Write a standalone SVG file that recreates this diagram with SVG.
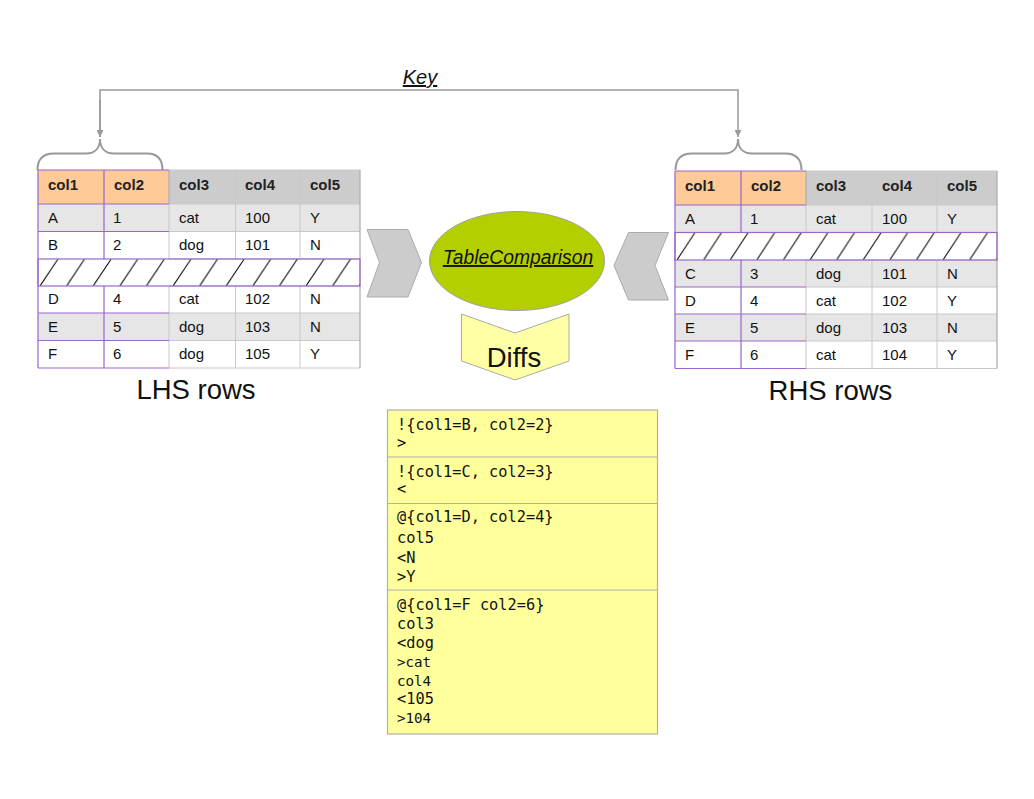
<svg xmlns="http://www.w3.org/2000/svg" width="1034" height="799" viewBox="0 0 1034 799">
<style>
.cell{font-family:"Liberation Sans",Arial,sans-serif;font-size:15px;fill:#111}
.hdr{font-family:"Liberation Sans",Arial,sans-serif;font-size:15px;font-weight:bold;fill:#222}
.grid{stroke:#c8c8c8;stroke-width:1;fill:none}
.key{stroke:#9966cc;stroke-width:1.2;fill:none}
.mono{font-family:"DejaVu Sans Mono","Liberation Mono",monospace;font-size:15.3px;fill:#111}
.mono.sm{font-size:14.2px}
.lbl{font-family:"Liberation Sans",Arial,sans-serif;font-size:27.5px;fill:#111}
.conn{stroke:#999;stroke-width:1.5;fill:none}
.brace{stroke:#999;stroke-width:2;fill:none}
</style>
<defs>
<marker id="ah" viewBox="0 0 10 10" refX="10" refY="5" markerWidth="7" markerHeight="7" markerUnits="userSpaceOnUse" orient="auto">
<path d="M0,0 L10,5 L0,10 z" fill="#999"/>
</marker>
<pattern id="hatchL" patternUnits="userSpaceOnUse" x="40" y="259" width="26.6" height="27">
<line x1="0" y1="27" x2="18" y2="0" stroke="#000" stroke-width="1"/>
</pattern>
<pattern id="hatchR" patternUnits="userSpaceOnUse" x="677" y="232.5" width="26.6" height="27.5">
<line x1="0" y1="27.5" x2="18" y2="0" stroke="#000" stroke-width="1"/>
</pattern>
</defs>

<g id="connectors">
<path class="conn" d="M100,137 L100,90 L738,90 L738,137" marker-end="url(#ah)"/>
<path class="conn" d="M100,100 L100,137" marker-end="url(#ah)"/>
<path class="brace" d="M37.5,170 C37.5,159 43,153.5 54,153.5 L86,153.5 C95,153.5 100,148 100,139 C100,148 105,153.5 114,153.5 L147,153.5 C158,153.5 162.5,159 162.5,170"/>
<path class="brace" d="M675.5,170 C675.5,159 681,153.5 692,153.5 L724,153.5 C733,153.5 738,148 738,139 C738,148 743,153.5 752,153.5 L785,153.5 C796,153.5 801.5,159 801.5,170"/>
<text x="420" y="84" text-anchor="middle" font-family="Liberation Sans, Arial, sans-serif" font-size="20" font-style="italic" text-decoration="underline" fill="#111">Key</text>
</g>

<g id="lhs-table">
<rect x="38" y="170" width="131" height="34" fill="#fdca98"/>
<rect x="169" y="170" width="191" height="34" fill="#cccccc"/>
<rect x="38" y="204" width="322" height="27.5" fill="#e6e6e6"/>
<rect x="38" y="231.5" width="322" height="27.5" fill="#ffffff"/>
<rect x="38" y="286" width="322" height="27" fill="#ffffff"/>
<rect x="38" y="313" width="322" height="27.5" fill="#e6e6e6"/>
<rect x="38" y="340.5" width="322" height="27.5" fill="#ffffff"/>
<path class="grid" d="M169,170 H360 M169,204 H360 M169,231.5 H360 M169,259 H360 M169,286 H360 M169,313 H360 M169,340.5 H360 M169,368 H360 M169,170 V259 M169,286 V368 M235.5,170 V259 M235.5,286 V368 M300,170 V259 M300,286 V368"/>
<path d="M360,170 V368" stroke="#aaa" stroke-width="1.2" fill="none"/>
<path d="M169,170 V204" stroke="#aaa" stroke-width="1" fill="none"/>
<path class="key" d="M38,170 H169 M38,204 H169 M38,231.5 H169 M38,313 H169 M38,340.5 H169 M38,368 H169 M38,170 V368 M104,170 V259 M104,286 V368"/>
<rect x="38" y="259" width="322" height="27" fill="url(#hatchL)" stroke="#9966cc" stroke-width="1.2"/>
<text class="hdr" x="48" y="190">col1</text>
<text class="hdr" x="114" y="190">col2</text>
<text class="hdr" x="179" y="190">col3</text>
<text class="hdr" x="245" y="190">col4</text>
<text class="hdr" x="310" y="190">col5</text>
<text class="cell" x="48" y="223">A</text><text class="cell" x="113" y="223">1</text><text class="cell" x="179" y="223">cat</text><text class="cell" x="245" y="223">100</text><text class="cell" x="310" y="223">Y</text>
<text class="cell" x="48" y="250">B</text><text class="cell" x="113" y="250">2</text><text class="cell" x="179" y="250">dog</text><text class="cell" x="245" y="250">101</text><text class="cell" x="310" y="250">N</text>
<text class="cell" x="48" y="304">D</text><text class="cell" x="113" y="304">4</text><text class="cell" x="179" y="304">cat</text><text class="cell" x="245" y="304">102</text><text class="cell" x="310" y="304">N</text>
<text class="cell" x="48" y="331.5">E</text><text class="cell" x="113" y="331.5">5</text><text class="cell" x="179" y="331.5">dog</text><text class="cell" x="245" y="331.5">103</text><text class="cell" x="310" y="331.5">N</text>
<text class="cell" x="48" y="358.5">F</text><text class="cell" x="113" y="358.5">6</text><text class="cell" x="179" y="358.5">dog</text><text class="cell" x="245" y="358.5">105</text><text class="cell" x="310" y="358.5">Y</text>
<text class="lbl" x="196" y="399" text-anchor="middle">LHS rows</text>
</g>

<g id="rhs-table">
<rect x="675" y="171" width="131" height="34" fill="#fdca98"/>
<rect x="806" y="171" width="191" height="34" fill="#cccccc"/>
<rect x="675" y="205" width="322" height="27.5" fill="#e6e6e6"/>
<rect x="675" y="260" width="322" height="27" fill="#e6e6e6"/>
<rect x="675" y="287" width="322" height="27" fill="#ffffff"/>
<rect x="675" y="314" width="322" height="27" fill="#e6e6e6"/>
<rect x="675" y="341" width="322" height="27.5" fill="#ffffff"/>
<path class="grid" d="M806,171 H997 M806,205 H997 M806,232.5 H997 M806,260 H997 M806,287 H997 M806,314 H997 M806,341 H997 M806,368.5 H997 M806,171 V232.5 M806,260 V368.5 M872,171 V232.5 M872,260 V368.5 M937,171 V232.5 M937,260 V368.5"/>
<path d="M997,171 V368.5" stroke="#aaa" stroke-width="1.2" fill="none"/>
<path d="M806,171 V205" stroke="#aaa" stroke-width="1" fill="none"/>
<path class="key" d="M675,171 H806 M675,205 H806 M675,287 H806 M675,314 H806 M675,341 H806 M675,368.5 H806 M675,171 V368.5 M741,171 V232.5 M741,260 V368.5"/>
<rect x="675" y="232.5" width="322" height="27.5" fill="url(#hatchR)" stroke="#9966cc" stroke-width="1.2"/>
<text class="hdr" x="685" y="191">col1</text>
<text class="hdr" x="751" y="191">col2</text>
<text class="hdr" x="816" y="191">col3</text>
<text class="hdr" x="882" y="191">col4</text>
<text class="hdr" x="947" y="191">col5</text>
<text class="cell" x="685" y="224">A</text><text class="cell" x="750" y="224">1</text><text class="cell" x="816" y="224">cat</text><text class="cell" x="882" y="224">100</text><text class="cell" x="947" y="224">Y</text>
<text class="cell" x="685" y="278.5">C</text><text class="cell" x="750" y="278.5">3</text><text class="cell" x="816" y="278.5">dog</text><text class="cell" x="882" y="278.5">101</text><text class="cell" x="947" y="278.5">N</text>
<text class="cell" x="685" y="305.5">D</text><text class="cell" x="750" y="305.5">4</text><text class="cell" x="816" y="305.5">cat</text><text class="cell" x="882" y="305.5">102</text><text class="cell" x="947" y="305.5">Y</text>
<text class="cell" x="685" y="332.5">E</text><text class="cell" x="750" y="332.5">5</text><text class="cell" x="816" y="332.5">dog</text><text class="cell" x="882" y="332.5">103</text><text class="cell" x="947" y="332.5">N</text>
<text class="cell" x="685" y="359.5">F</text><text class="cell" x="750" y="359.5">6</text><text class="cell" x="816" y="359.5">cat</text><text class="cell" x="882" y="359.5">104</text><text class="cell" x="947" y="359.5">Y</text>
<text class="lbl" x="830.5" y="400" text-anchor="middle">RHS rows</text>
</g>

<g id="lhs-chevron">
<polygon points="367,229.5 408,229.5 421.5,262.5 408,297 367,297 379.5,262.5" fill="#cccccc" stroke="#aaa" stroke-width="1"/>
</g>
<g id="rhs-chevron">
<polygon points="668.5,232.5 628.5,232.5 614,265.5 628.5,300 668.5,300 655,265.5" fill="#cccccc" stroke="#aaa" stroke-width="1"/>
</g>

<g id="table-comparison">
<ellipse cx="517" cy="261" rx="87.5" ry="49.5" fill="#b3cf00" stroke="#a0a0a0" stroke-width="1"/>
<text x="518" y="264" text-anchor="middle" font-family="Liberation Sans, Arial, sans-serif" font-size="19.3" font-style="italic" text-decoration="underline" fill="#111">TableComparison</text>
</g>

<g id="diffs">
<polygon points="461.5,314 515,333 569,314 569,361 515,380 461.5,361" fill="#ffffa5" stroke="#aaa" stroke-width="1"/>
<text x="514" y="367" text-anchor="middle" font-family="Liberation Sans, Arial, sans-serif" font-size="27.5" fill="#111">Diffs</text>
</g>

<g id="diff-list">
<rect x="387.5" y="410" width="270" height="324" fill="#ffff9c" stroke="#b0b0b0" stroke-width="1.2"/>
<path d="M387.5,457 H657.5 M387.5,503.5 H657.5 M387.5,590 H657.5" stroke="#b0b0b0" stroke-width="1.2" fill="none"/>
<text class="mono" x="397" y="430">!{col1=B, col2=2}</text>
<text class="mono" x="397" y="448">&gt;</text>
<text class="mono" x="397" y="477">!{col1=C, col2=3}</text>
<text class="mono" x="397" y="494">&lt;</text>
<text class="mono" x="397" y="522">@{col1=D, col2=4}</text>
<text class="mono" x="397" y="543">col5</text>
<text class="mono" x="397" y="563">&lt;N</text>
<text class="mono" x="397" y="582">&gt;Y</text>
<text class="mono" x="397" y="610">@{col1=F col2=6}</text>
<text class="mono" x="397" y="629">col3</text>
<text class="mono" x="397" y="648">&lt;dog</text>
<text class="mono sm" x="397" y="667">&gt;cat</text>
<text class="mono sm" x="397" y="686">col4</text>
<text class="mono" x="397" y="704">&lt;105</text>
<text class="mono sm" x="397" y="723">&gt;104</text>
</g>
</svg>
